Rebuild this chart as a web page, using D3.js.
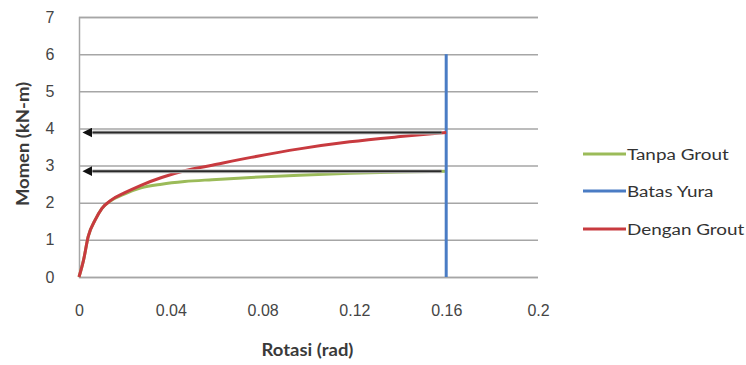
<!DOCTYPE html>
<html>
<head>
<meta charset="utf-8">
<script src="https://cdn.jsdelivr.net/npm/d3@7/dist/d3.min.js"></script>
<style>
  html, body { margin: 0; padding: 0; background: #fff; }
  svg { display: block; font-family: Lato, "Open Sans", sans-serif; }
</style>
</head>
<body>
<svg id="chart" width="746" height="365"></svg>
<script>
// Moment–rotation curves
const rotasiTanpa = [0, 0.002, 0.004, 0.007, 0.010, 0.014, 0.020, 0.027, 0.036, 0.046, 0.058, 0.075, 0.096, 0.118, 0.140, 0.160];
const momenTanpa  = [0, 0.46, 1.09, 1.53, 1.85, 2.06, 2.24, 2.40, 2.50, 2.57, 2.62, 2.68, 2.74, 2.79, 2.83, 2.85];
const rotasiDengan = [0, 0.002, 0.004, 0.007, 0.010, 0.014, 0.020, 0.027, 0.036, 0.046, 0.058, 0.075, 0.096, 0.118, 0.140, 0.160];
const momenDengan  = [0, 0.46, 1.09, 1.53, 1.85, 2.07, 2.27, 2.47, 2.68, 2.86, 3.01, 3.22, 3.45, 3.64, 3.78, 3.89];
const rotasiBatas = [0.16, 0.16];
const momenBatas  = [0, 6];

const seriesNames = ["Tanpa Grout", "Batas Yura", "Dengan Grout"];
const seriesColors = ["#9bbb59", "#4a7cc4", "#c83a3f"];

const xTicks = [0, 0.04, 0.08, 0.12, 0.16, 0.2];
const yTicks = [0, 1, 2, 3, 4, 5, 6, 7];
const xTitle = "Rotasi (rad)";
const yTitle = "Momen (kN-m)";

const svg = d3.select("#chart");
const plot = { left: 79, right: 538, top: 17, bottom: 277 };

const x = d3.scaleLinear().domain([0, 0.2]).range([plot.left, plot.right]);
const y = d3.scaleLinear().domain([0, 7]).range([plot.bottom, plot.top]);

// horizontal gridlines + y labels
const yAxis = d3.axisLeft(y).tickValues(yTicks).tickFormat(d3.format("d"))
  .tickSize(-(plot.right - plot.left)).tickPadding(21);
const gy = svg.append("g").attr("transform", `translate(${plot.left},0)`).call(yAxis);
gy.select(".domain").attr("stroke", "#a6a6a6").attr("stroke-width", 1.5);
gy.selectAll(".tick line").attr("stroke", "#a6a6a6").attr("stroke-width", 1.5);
gy.selectAll(".tick text").attr("fill", "#454545").attr("font-size", 16)
  .attr("text-anchor", "middle").attr("x", -29);

// x labels
const xAxis = d3.axisBottom(x).tickValues(xTicks).tickFormat(d => d === 0 ? "0" : String(+d.toFixed(2)))
  .tickSize(0).tickPadding(28);
const gx = svg.append("g").attr("transform", `translate(0,${plot.bottom})`).call(xAxis);
gx.select(".domain").remove();
gx.selectAll(".tick text").attr("fill", "#454545").attr("font-size", 16);

// axis titles (slightly widened lettering)
svg.append("text")
  .attr("transform", `translate(${(plot.left + plot.right) / 2 - 1},356) scale(1.12,1)`)
  .attr("text-anchor", "middle").attr("font-size", 16.5).attr("font-weight", "bold")
  .attr("fill", "#3a3a3a").text(xTitle);
svg.append("text")
  .attr("transform", `translate(29,144) rotate(-90) scale(1.12,1)`)
  .attr("text-anchor", "middle").attr("font-size", 16.5).attr("font-weight", "bold")
  .attr("fill", "#3a3a3a").text(yTitle);

// series
const line = d3.line().x(d => x(d[0])).y(d => y(d[1])).curve(d3.curveMonotoneX);
const straight = d3.line().x(d => x(d[0])).y(d => y(d[1]));
const series = [
  d3.zip(rotasiTanpa, momenTanpa),
  d3.zip(rotasiBatas, momenBatas),
  d3.zip(rotasiDengan, momenDengan)
];
series.forEach((pts, i) => {
  svg.append("path").datum(pts)
    .attr("d", i === 1 ? straight : line)
    .attr("fill", "none").attr("stroke", seriesColors[i])
    .attr("stroke-width", 3).attr("stroke-linejoin", "round").attr("stroke-linecap", "butt");
});

// arrows from the end of each curve back to the moment axis
const defs = svg.append("defs");
defs.append("marker").attr("id", "head").attr("viewBox", "0 0 10 10")
  .attr("refX", 0).attr("refY", 5).attr("markerWidth", 10).attr("markerHeight", 10)
  .attr("markerUnits", "userSpaceOnUse").attr("orient", "auto-start-reverse")
  .append("path").attr("d", "M0,0 L10,5 L0,10 Z").attr("fill", "#111");

const arrowLevels = [momenDengan[momenDengan.length - 1], momenTanpa[momenTanpa.length - 1]];
arrowLevels.forEach(v => {
  svg.append("line")
    .attr("x1", x(0.158)).attr("x2", x(0.0015) + 10)
    .attr("y1", y(v)).attr("y2", y(v))
    .attr("stroke", "#c8c8c8").attr("stroke-width", 4);
  svg.append("line")
    .attr("x1", x(0.158)).attr("x2", x(0.0015) + 10)
    .attr("y1", y(v)).attr("y2", y(v))
    .attr("stroke", "#2a2a2a").attr("stroke-width", 2)
    .attr("marker-end", "url(#head)");
});

// legend
const legend = svg.append("g");
const legendY = [154, 191, 229];
seriesNames.forEach((name, i) => {
  legend.append("line").attr("x1", 583).attr("x2", 626)
    .attr("y1", legendY[i]).attr("y2", legendY[i])
    .attr("stroke", seriesColors[i]).attr("stroke-width", 3);
  legend.append("text")
    .attr("transform", `translate(627,${legendY[i]}) scale(1.18,1)`)
    .attr("dy", "0.35em")
    .attr("font-size", 16).attr("fill", "#333").text(name);
});
</script>
</body>
</html>
